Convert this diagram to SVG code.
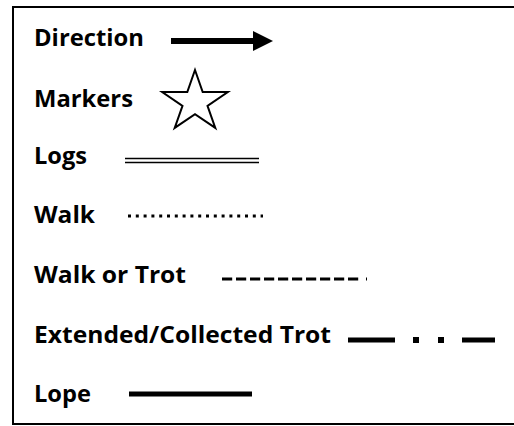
<svg xmlns="http://www.w3.org/2000/svg" width="514" height="426" viewBox="0 0 514 426">
<style>
text{font-family:"Open Sans","Liberation Sans",sans-serif;font-weight:bold;font-size:23.5px;fill:#000}
.ln{stroke:#000;fill:none}
</style>
<rect x="0" y="0" width="514" height="426" fill="#fff"/>
<rect x="13" y="7" width="510" height="417" fill="none" stroke="#000" stroke-width="2"/>
<g id="direction">
<text x="34" y="46" textLength="110" lengthAdjust="spacingAndGlyphs">Direction</text>
</g>
<g id="markers">
<text x="34" y="107" textLength="99" lengthAdjust="spacingAndGlyphs">Markers</text>
<polygon points="195,70 202.7,92.1 227.8,92.1 207.5,105.8 215.3,127.9 195,114.2 174.7,127.9 182.5,105.8 162.2,92.1 187.3,92.1" fill="#fff" stroke="#000" stroke-width="2" stroke-linejoin="miter"/>
</g>
<g id="logs">
<text x="34" y="164" textLength="53" lengthAdjust="spacingAndGlyphs">Logs</text>
</g>
<g id="walk">
<text x="34" y="223" textLength="61" lengthAdjust="spacingAndGlyphs">Walk</text>
</g>
<g id="walk-or-trot">
<text x="34" y="283" textLength="152" lengthAdjust="spacingAndGlyphs">Walk or Trot</text>
</g>
<g id="extended-collected-trot">
<text x="34" y="343" textLength="297" lengthAdjust="spacingAndGlyphs">Extended/Collected Trot</text>
</g>
<g id="lope">
<text x="34" y="402" textLength="57" lengthAdjust="spacingAndGlyphs">Lope</text>
</g>
<g id="connectors">
<line class="ln" x1="171" y1="41" x2="255" y2="41" stroke-width="6"/>
<polygon points="253,31 273,41 253,51" fill="#000"/>
<line class="ln" x1="125" y1="158.5" x2="259" y2="158.5" stroke-width="1.6"/>
<line class="ln" x1="125" y1="162.5" x2="259" y2="162.5" stroke-width="1.6"/>
<line class="ln" x1="128" y1="216" x2="263" y2="216" stroke-width="3" stroke-dasharray="3 4.8"/>
<line class="ln" x1="222" y1="279" x2="359" y2="279" stroke-width="3" stroke-dasharray="10.2 3.8"/>
<line class="ln" x1="366.5" y1="277.5" x2="366.5" y2="280.5" stroke-width="1"/>
<line class="ln" x1="348" y1="340" x2="395" y2="340" stroke-width="5"/>
<rect x="413" y="337" width="6" height="6" fill="#000"/>
<rect x="438" y="337" width="6" height="6" fill="#000"/>
<line class="ln" x1="462" y1="340" x2="495" y2="340" stroke-width="5"/>
<line class="ln" x1="129" y1="394" x2="252" y2="394" stroke-width="5"/>
</g>
</svg>
